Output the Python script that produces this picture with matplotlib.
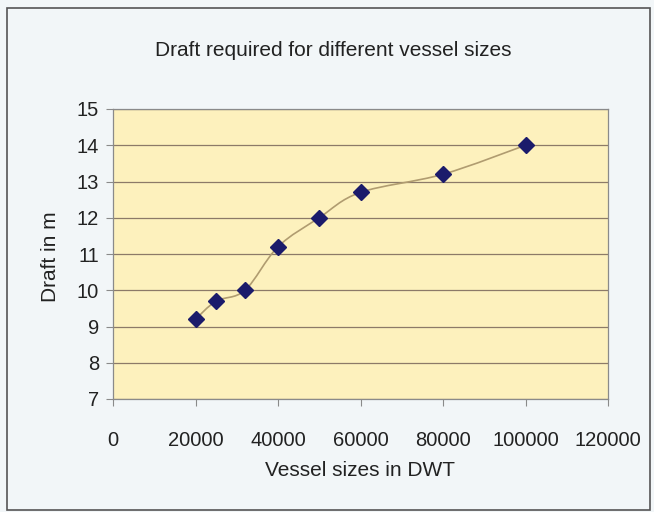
import numpy as np
import matplotlib.pyplot as plt
from matplotlib.path import Path
from matplotlib.patches import PathPatch, Rectangle

plt.rcParams['font.family'] = ['Liberation Sans', 'DejaVu Sans']

# Vessel size (DWT) and required draft (m)
vessel_dwt = [20000, 25000, 32000, 40000, 50000, 60000, 80000, 100000]
draft_m = [9.2, 9.7, 10.0, 11.2, 12.0, 12.7, 13.2, 14.0]

x_ticks = [0, 20000, 40000, 60000, 80000, 100000, 120000]
y_ticks = [7, 8, 9, 10, 11, 12, 13, 14, 15]

fig_bg = '#f2f6f8'
plot_bg = '#fdf1bd'
grid_col = '#8c7a68'
line_col = '#b09c70'
marker_col = '#1b1b6b'
text_col = '#222222'

fig = plt.figure(figsize=(6.54, 5.12), dpi=100)
fig.patch.set_facecolor(fig_bg)

# outer chart frame
fig.patches.append(Rectangle((7 / 654, 2 / 512), 643 / 654, 502 / 512,
                             transform=fig.transFigure, fill=False,
                             edgecolor='#555555', linewidth=1.2))

ax = fig.add_axes([113 / 654, 1 - 399 / 512, 495 / 654, 290 / 512])
ax.set_facecolor(plot_bg)
ax.set_xlim(0, 120000)
ax.set_ylim(7, 15)
ax.set_xticks(x_ticks)
ax.set_yticks(y_ticks)
ax.set_xticklabels([str(t) for t in x_ticks])
ax.grid(axis='y', color=grid_col, linewidth=0.9)
ax.set_axisbelow(True)
for s in ax.spines.values():
    s.set_color('#8a8a8a')
    s.set_linewidth(0.9)
ax.tick_params(axis='both', direction='out', length=5, color='#8a8a8a',
               labelsize=14.5, labelcolor=text_col)
ax.tick_params(axis='x', pad=18)
ax.tick_params(axis='y', pad=5)

# smoothed connecting line as cubic Bezier segments (Catmull-Rom style)
pts = np.column_stack([vessel_dwt, draft_m]).astype(float)
ext = np.vstack([pts[0], pts, pts[-1]])
verts = [tuple(pts[0])]
codes = [Path.MOVETO]
for i in range(len(pts) - 1):
    p0, p1, p2, p3 = ext[i], ext[i + 1], ext[i + 2], ext[i + 3]
    c1 = p1 + (p2 - p0) / 6
    c2 = p2 - (p3 - p1) / 6
    verts += [tuple(c1), tuple(c2), tuple(p2)]
    codes += [Path.CURVE4] * 3
ax.add_patch(PathPatch(Path(verts, codes), facecolor='none',
                       edgecolor=line_col, linewidth=1.2, zorder=3))

ax.plot(vessel_dwt, draft_m, linestyle='none', marker='D', markersize=8,
        color=marker_col, markeredgecolor=marker_col, zorder=4)

fig.text(333 / 654, 1 - 50 / 512, 'Draft required for different vessel sizes',
         ha='center', va='center', fontsize=15, color=text_col)
fig.text(360 / 654, 1 - 471 / 512, 'Vessel sizes in DWT',
         ha='center', va='center', fontsize=15, color=text_col)
fig.text(50 / 654, 1 - 257 / 512, 'Draft in m', rotation=90,
         ha='center', va='center', fontsize=15, color=text_col)

fig.savefig('out.png', dpi=100, facecolor=fig_bg)
